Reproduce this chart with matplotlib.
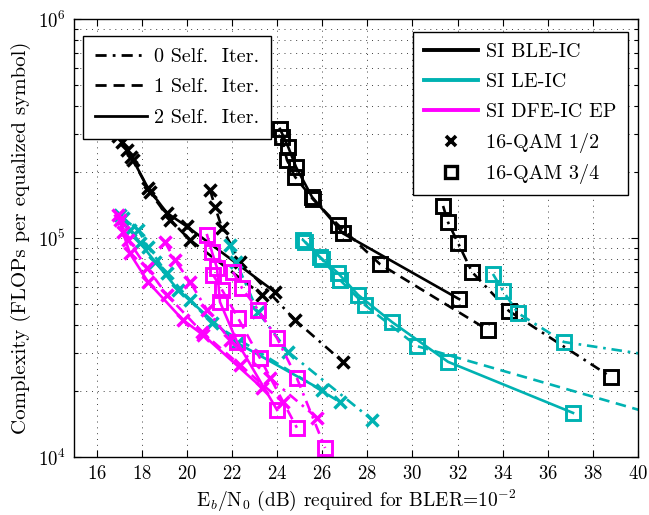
import numpy as np
import matplotlib
matplotlib.use("Agg")
import matplotlib.pyplot as plt
from matplotlib.lines import Line2D
from matplotlib.ticker import LogLocator, NullLocator, NullFormatter

plt.rcParams["font.family"] = ["cmr10", "DejaVu Serif"]
plt.rcParams["mathtext.fontset"] = "cm"
plt.rcParams["axes.formatter.use_mathtext"] = True
plt.rcParams["font.size"] = 13

BLACK, TEAL, MAGENTA = "#000000", "#00B2B2", "#FF00FF"
SOLID, DASHED, DASHDOT = "-", (0, (4, 2.5)), (0, (4, 2.2, 1, 2.2))

# ---- SI BLE-IC, 16-QAM 1/2 (x) ----
ble12_it2_x = [16.95, 17.35, 17.62, 18.28, 19.12, 20.0, 23.91]
ble12_it2_y = [2.92e5, 2.52e5, 2.27e5, 1.69e5, 1.30e5, 1.13e5, 5.67e4]
ble12_it1_x = [17.13, 17.53, 18.37, 19.26, 20.14, 23.33]
ble12_it1_y = [2.74e5, 2.34e5, 1.62e5, 1.21e5, 9.8e4, 5.5e4]
ble12_it0_x = [21.03, 21.25, 21.56, 22.36, 24.8, 26.92]
ble12_it0_y = [1.66e5, 1.39e5, 1.11e5, 7.8e4, 4.22e4, 2.72e4]
# ---- SI BLE-IC, 16-QAM 3/4 (square) ----
ble34_it2_x = [24.13, 24.49, 24.84, 25.55, 26.92, 32.07]
ble34_it2_y = [3.15e5, 2.61e5, 2.11e5, 1.54e5, 1.05e5, 5.26e4]
ble34_it1_x = [24.2, 24.44, 24.8, 25.6, 26.7, 28.56, 33.35]
ble34_it1_y = [2.9e5, 2.27e5, 1.90e5, 1.5e5, 1.15e5, 7.6e4, 3.8e4]
ble34_it0_x = [31.36, 31.58, 32.02, 32.64, 34.28, 38.8]
ble34_it0_y = [1.40e5, 1.18e5, 9.5e4, 7.0e4, 4.64e4, 2.32e4]
# ---- SI LE-IC, 16-QAM 1/2 ----
le12_it2_x = [17.04, 17.48, 17.93, 18.59, 19.61, 22.23, 25.99]
le12_it2_y = [1.27e5, 1.09e5, 9.5e4, 7.8e4, 5.8e4, 3.32e4, 2.02e4]
le12_it1_x = [17.17, 17.84, 18.28, 19.12, 20.14, 21.12, 26.79]
le12_it1_y = [1.23e5, 1.09e5, 9.1e4, 6.9e4, 5.2e4, 4.09e4, 1.78e4]
le12_it0_x = [21.91, 22.18, 23.16, 24.49, 28.21]
le12_it0_y = [9.3e4, 7.8e4, 4.59e4, 3.02e4, 1.48e4]
# ---- SI LE-IC, 16-QAM 3/4 ----
le34_it2_x = [25.15, 25.9, 26.7, 27.59, 29.1, 31.58, 37.12]
le34_it2_y = [9.8e4, 8.19e4, 6.92e4, 5.5e4, 4.13e4, 2.72e4, 1.59e4]
le34_it1_x = [25.24, 25.99, 26.79, 27.9, 30.2, 40.97]
le34_it1_y = [9.6e4, 8.0e4, 6.43e4, 4.94e4, 3.21e4, 1.54e4]
le34_it0_x = [33.57, 34.02, 34.68, 36.72, 42.0]
le34_it0_y = [6.85e4, 5.73e4, 4.54e4, 3.35e4, 2.77e4]
# ---- SI DFE-IC EP, 16-QAM 1/2 ----
dfe12_it2_x = [16.95, 17.17, 17.48, 18.28, 19.83, 20.72, 23.33]
dfe12_it2_y = [1.27e5, 1.06e5, 8.5e4, 6.3e4, 4.22e4, 3.61e4, 2.07e4]
dfe12_it1_x = [17.04, 17.39, 18.24, 19.12, 20.67, 22.36, 24.26]
dfe12_it1_y = [1.21e5, 9.8e4, 7.3e4, 5.5e4, 3.72e4, 2.63e4, 1.78e4]
dfe12_it0_x = [19.03, 19.48, 20.14, 20.9, 21.91, 23.69, 25.77]
dfe12_it0_y = [9.6e4, 7.9e4, 6.3e4, 4.69e4, 3.42e4, 2.29e4, 1.51e4]
# ---- SI DFE-IC EP, 16-QAM 3/4 ----
dfe34_it2_x = [20.9, 21.12, 21.34, 21.47, 22.23, 24.0]
dfe34_it2_y = [1.03e5, 8.6e4, 7.3e4, 5.1e4, 3.35e4, 1.64e4]
dfe34_it1_x = [21.16, 21.56, 22.27, 23.24, 24.88]
dfe34_it1_y = [6.8e4, 5.8e4, 4.31e4, 2.83e4, 1.36e4]
dfe34_it0_x = [22.05, 22.45, 23.16, 24.0, 24.88, 26.13]
dfe34_it0_y = [7.0e4, 5.9e4, 4.69e4, 3.49e4, 2.29e4, 1.10e4]

series = [
    (ble12_it2_x, ble12_it2_y, BLACK, "x", SOLID), (ble12_it1_x, ble12_it1_y, BLACK, "x", DASHED),
    (ble12_it0_x, ble12_it0_y, BLACK, "x", DASHDOT), (ble34_it2_x, ble34_it2_y, BLACK, "s", SOLID),
    (ble34_it1_x, ble34_it1_y, BLACK, "s", DASHED), (ble34_it0_x, ble34_it0_y, BLACK, "s", DASHDOT),
    (le12_it2_x, le12_it2_y, TEAL, "x", SOLID), (le12_it1_x, le12_it1_y, TEAL, "x", DASHED),
    (le12_it0_x, le12_it0_y, TEAL, "x", DASHDOT), (le34_it2_x, le34_it2_y, TEAL, "s", SOLID),
    (le34_it1_x, le34_it1_y, TEAL, "s", DASHED), (le34_it0_x, le34_it0_y, TEAL, "s", DASHDOT),
    (dfe12_it2_x, dfe12_it2_y, MAGENTA, "x", SOLID), (dfe12_it1_x, dfe12_it1_y, MAGENTA, "x", DASHED),
    (dfe12_it0_x, dfe12_it0_y, MAGENTA, "x", DASHDOT), (dfe34_it2_x, dfe34_it2_y, MAGENTA, "s", SOLID),
    (dfe34_it1_x, dfe34_it1_y, MAGENTA, "s", DASHED), (dfe34_it0_x, dfe34_it0_y, MAGENTA, "s", DASHDOT),
]

fig = plt.figure(figsize=(6.49, 5.15), dpi=100)
ax = fig.add_axes([74 / 649, 1 - 457 / 515, 564 / 649, 438 / 515])

for xs, ys, c, m, ls in series:
    if m == "x":
        ax.plot(xs, ys, color=c, ls=ls, lw=1.9, marker="x", ms=9, mew=2.5)
    else:
        ax.plot(xs, ys, color=c, ls=ls, lw=1.9, marker="s", ms=10, mew=2.1, mfc="none")

ax.set_yscale("log")
ax.set_xlim(15, 40)
ax.set_ylim(1e4, 1e6)
ax.set_xticks(np.arange(16, 41, 2))
ax.xaxis.set_minor_locator(NullLocator())
ax.yaxis.set_major_locator(LogLocator(base=10, numticks=5))
ax.yaxis.set_minor_locator(LogLocator(base=10, subs=np.arange(2, 10), numticks=20))
ax.yaxis.set_minor_formatter(NullFormatter())
ax.tick_params(which="both", direction="in", top=True, right=True, width=0.8, labelsize=13.5)
ax.tick_params(which="major", length=5, pad=6)
ax.tick_params(which="minor", length=3)
ax.grid(which="major", ls=(0, (1, 5)), color="0.25", lw=0.7)
ax.grid(which="minor", axis="y", ls=(0, (1, 5)), color="0.25", lw=0.7)
for s in ax.spines.values():
    s.set_linewidth(1.0)

ax.set_xlabel(r"E$_b$/N$_0$ (dB) required for BLER=10$^{-2}$", fontsize=14, labelpad=3)
ax.set_ylabel("Complexity (FLOPs per equalized symbol)", fontsize=15, labelpad=5)

# legend for self-iterations
h1 = [Line2D([], [], color="k", lw=2, ls=DASHDOT), Line2D([], [], color="k", lw=2, ls=DASHED),
      Line2D([], [], color="k", lw=2, ls=SOLID)]
leg1 = ax.legend(h1, ["0 Self.  Iter.", "1 Self.  Iter.", "2 Self.  Iter."], loc="upper left",
                 bbox_to_anchor=(0.016, 0.961), borderaxespad=0, fancybox=False, edgecolor="k",
                 framealpha=1, fontsize=14.5, handlelength=2.6, handletextpad=0.3,
                 labelspacing=0.6, borderpad=0.6)
leg1.get_frame().set_linewidth(1.0)
ax.add_artist(leg1)

# legend for equalizers / modulations
h2 = [Line2D([], [], color=BLACK, lw=2.8), Line2D([], [], color=TEAL, lw=2.8),
      Line2D([], [], color=MAGENTA, lw=2.8),
      Line2D([], [], color="k", ls="none", marker="x", ms=7, mew=2.6),
      Line2D([], [], color="k", ls="none", marker="s", ms=9, mew=2.4, mfc="none")]
leg2 = ax.legend(h2, ["SI BLE-IC", "SI LE-IC", "SI DFE-IC EP", "16-QAM 1/2", "16-QAM 3/4"],
                 loc="upper right", bbox_to_anchor=(0.982, 0.970), borderaxespad=0, fancybox=False,
                 edgecolor="k", framealpha=1, fontsize=14.5, handlelength=2.7, handletextpad=0.4,
                 labelspacing=0.58, borderpad=0.55)
leg2.get_frame().set_linewidth(1.0)

fig.savefig("out.png", dpi=100)
